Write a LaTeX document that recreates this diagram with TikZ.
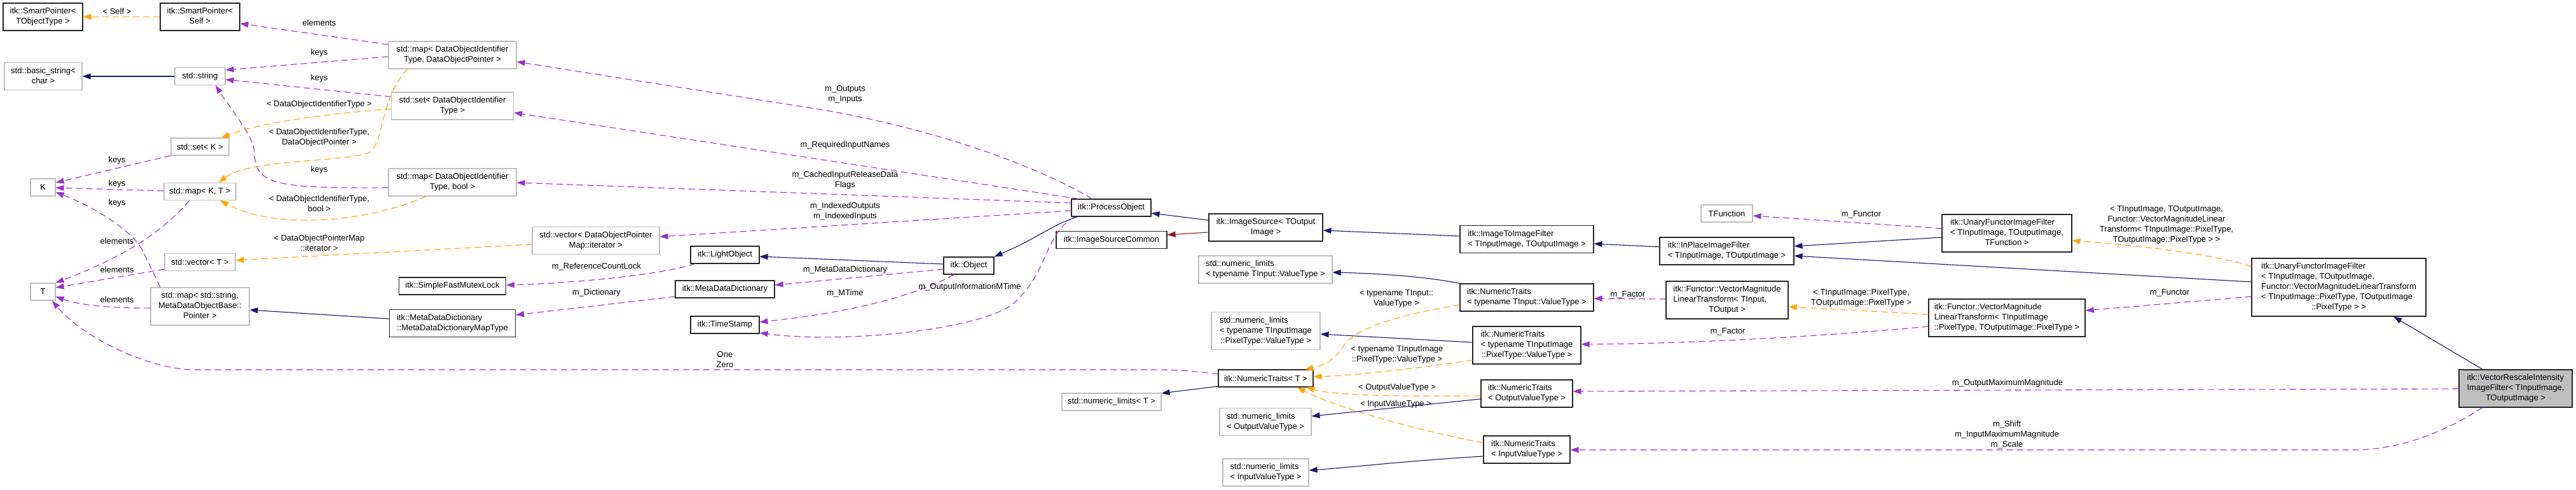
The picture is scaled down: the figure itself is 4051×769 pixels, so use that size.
\documentclass[tikz,border=0pt]{standalone}
\usepackage{fontspec}
\setmainfont{Liberation Sans}
\usepackage{xcolor}
\usepackage{tikz}
\usetikzlibrary{arrows.meta,calc}

\definecolor{inhblue}{HTML}{191970}
\definecolor{usepurple}{HTML}{9A32CD}
\definecolor{tmplorange}{HTML}{FFA500}
\definecolor{protred}{HTML}{8B1A1A}
\definecolor{extgray}{HTML}{BFBFBF}

\newcommand{\dxfont}{\fontsize{13pt}{16pt}\selectfont}
\newcommand{\boxc}[1]{\begin{tabular}{@{}c@{}}#1\end{tabular}}
\newcommand{\boxl}[1]{\begin{tabular}{@{}l@{}}#1\end{tabular}}
\newcommand{\boxm}[2]{\begin{tabular}{@{}l@{}}#1\\\multicolumn{1}{@{}c@{}}{#2}\end{tabular}}

\begin{document}
\begin{tikzpicture}[
    x=1pt, y=-1pt,
    >={Triangle[length=13pt,width=9pt]},
    cls/.style={rectangle, draw=black!85, line width=1.1pt, fill=white, inner sep=0pt, font=\dxfont},
    ext/.style={rectangle, draw=extgray, line width=1.1pt, fill=white, inner sep=0pt, font=\dxfont},
    focus/.style={cls, fill=extgray},
    wh/.style 2 args={minimum width=#1pt, minimum height=#2pt},
    lbl/.style={font=\dxfont, align=center, inner sep=0pt},
    inhline/.style={->, line width=1.1pt, inhblue},
    protline/.style={->, line width=1.1pt, protred},
    useline/.style={->, line width=1.1pt, usepurple, dash pattern=on 10pt off 6pt},
    tmplline/.style={->, line width=1.1pt, tmplorange, dash pattern=on 10pt off 6pt}
]
    \path[use as bounding box, fill=white] (0,0) rectangle (4051,769);

    % std containers and helpers
    \node[cls, wh={125}{43}] (sptobj) at (67.5,26.5) {\boxc{itk::SmartPointer<\\TObjectType >}};
    \node[cls, wh={125}{43}] (spself) at (314.5,26.5) {\boxc{itk::SmartPointer<\\Self >}};
    \node[ext, wh={122}{43}] (basicstr) at (68,120) {\boxc{std::basic\_string<\\char >}};
    \node[ext, wh={79}{27}] (string) at (314.5,120) {std::string};
    \node[ext, wh={91}{27}] (setK) at (314.5,230.5) {std::set< K >};
    \node[ext, wh={39}{27}] (K) at (67.5,294.5) {K};
    \node[ext, wh={113}{27}] (mapKT) at (314.5,301) {std::map< K, T >};
    \node[ext, wh={111}{27}] (vectorT) at (314.5,412) {std::vector< T >};
    \node[ext, wh={39}{27}] (T) at (67.5,458.5) {T};
    \node[ext, wh={155}{59}] (mapMeta) at (314.5,481.5) {\boxc{std::map< std::string,\\MetaDataObjectBase::\\Pointer >}};
    \node[ext, wh={201}{43}] (mapDOIdPtr) at (711.5,86.5) {\boxc{std::map< DataObjectIdentifier\\Type, DataObjectPointer >}};
    \node[ext, wh={192}{43}] (setDOId) at (711.5,166.5) {\boxc{std::set< DataObjectIdentifier\\Type >}};
    \node[ext, wh={201}{43}] (mapDOIdBool) at (711.5,286.5) {\boxc{std::map< DataObjectIdentifier\\Type, bool >}};
    \node[cls, wh={168}{27}] (mutex) at (711.5,449.5) {itk::SimpleFastMutexLock};
    \node[cls, wh={198}{43}] (mdmaptype) at (711.5,508) {\boxl{itk::MetaDataDictionary\\::MetaDataDictionaryMapType}};
    \node[ext, wh={200}{43}] (vecdopmi) at (937,378) {\boxc{std::vector< DataObjectPointer\\Map::iterator >}};

    % object hierarchy
    \node[cls, wh={108}{27}] (lightobj) at (1140,400.5) {itk::LightObject};
    \node[cls, wh={156}{27}] (mddict) at (1140,454.5) {itk::MetaDataDictionary};
    \node[cls, wh={108}{27}] (timestamp) at (1140,510.5) {itk::TimeStamp};
    \node[cls, wh={79}{27}] (object) at (1523.5,417.5) {itk::Object};
    \node[cls, wh={125}{27}] (procobj) at (1747.5,326.5) {itk::ProcessObject};
    \node[cls, wh={174}{27}] (isrccommon) at (1748,377) {itk::ImageSourceCommon};
    \node[ext, wh={156}{27}] (nlT) at (1748,631.5) {std::numeric\_limits< T >};
    \node[cls, wh={179}{43}] (imgsrc) at (1990.5,357.5) {\boxc{itk::ImageSource< TOutput\\Image >}};

    % numeric traits
    \node[ext, wh={210}{43}] (nlTInputVT) at (1990,423.5) {\boxl{std::numeric\_limits\\< typename TInput::ValueType >}};
    \node[ext, wh={171}{59}] (nlTInputImagePT) at (1990.5,520) {\boxm{std::numeric\_limits\\< typename TInputImage}{::PixelType::ValueType >}};
    \node[cls, wh={149}{27}] (ntT) at (1990.5,594.5) {itk::NumericTraits< T >};
    \node[ext, wh={144}{43}] (nlOutVT) at (1990,663) {\boxl{std::numeric\_limits\\< OutputValueType >}};
    \node[ext, wh={135}{43}] (nlInVT) at (1990.5,742.5) {\boxl{std::numeric\_limits\\< InputValueType >}};
    \node[cls, wh={210}{43}] (i2i) at (2401,376) {\boxl{itk::ImageToImageFilter\\< TInputImage, TOutputImage >}};
    \node[cls, wh={210}{43}] (ntTInputVT) at (2401,467.5) {\boxl{itk::NumericTraits\\< typename TInput::ValueType >}};
    \node[cls, wh={170}{59}] (ntTInputImagePT) at (2401,542.5) {\boxm{itk::NumericTraits\\< typename TInputImage}{::PixelType::ValueType >}};
    \node[cls, wh={144}{43}] (ntOutVT) at (2401,618.5) {\boxl{itk::NumericTraits\\< OutputValueType >}};
    \node[cls, wh={136}{43}] (ntInVT) at (2401,706.5) {\boxl{itk::NumericTraits\\< InputValueType >}};

    % filters and functors
    \node[ext, wh={81}{27}] (tfunc) at (2715.5,335.5) {TFunction};
    \node[cls, wh={211}{43}] (inplace) at (2715.5,394.5) {\boxl{itk::InPlaceImageFilter\\< TInputImage, TOutputImage >}};
    \node[cls, wh={192}{59}] (vmltS) at (2716,471.5) {\boxm{itk::Functor::VectorMagnitude\\LinearTransform< TInput,}{TOutput >}};
    \node[cls, wh={204}{59}] (uf) at (3156,366.5) {\boxm{itk::UnaryFunctorImageFilter\\< TInputImage, TOutputImage,}{TFunction >}};
    \node[cls, wh={246}{59}] (vmltB) at (3156,499.5) {\boxl{itk::Functor::VectorMagnitude\\LinearTransform< TInputImage\\::PixelType, TOutputImage::PixelType >}};
    \node[cls, wh={274}{91}] (ufB) at (3678,451.5) {\boxm{itk::UnaryFunctorImageFilter\\< TInputImage, TOutputImage,\\Functor::VectorMagnitudeLinearTransform\\< TInputImage::PixelType, TOutputImage}{::PixelType > >}};
    \node[focus, wh={178}{59}] (vr) at (3956,610.5) {\boxm{itk::VectorRescaleIntensity\\ImageFilter< TInputImage,}{TOutputImage >}};

    % inheritance
    \draw[inhline] (string) -- (basicstr);
    \draw[inhline] (mdmaptype.west |- 0,501) -- (mapMeta.east |- 0,487);
    \draw[inhline] (object.west |- 0,415) -- (lightobj.east |- 0,403);
    \draw[inhline] (procobj.south -| 1695,0) .. controls (1650,355) and (1640,370) .. (object.north east);
    \draw[inhline] (imgsrc.west |- 0,346) -- (procobj.east |- 0,335);
    \draw[protline] (imgsrc.west |- 0,365) -- (isrccommon.east |- 0,369);
    \draw[inhline] (i2i.west |- 0,371) -- (imgsrc.east |- 0,362);
    \draw[inhline] (inplace.west |- 0,388) -- (i2i.east |- 0,383);
    \draw[inhline] (uf.west |- 0,373) -- (inplace.east |- 0,387);
    \draw[inhline] (ufB.west |- 0,443) -- (inplace.east |- 0,402);
    \draw[inhline] (vr.north -| 3904,0) -- (ufB.south -| 3764,0);
    \draw[inhline] (ntTInputVT.north west) .. controls (2250,436) and (2180,430) .. (nlTInputVT.east |- 0,428);
    \draw[inhline] (ntTInputImagePT.west |- 0,538) -- (nlTInputImagePT.east |- 0,525);
    \draw[inhline] (ntOutVT.west |- 0,627) -- (nlOutVT.east |- 0,654);
    \draw[inhline] (ntInVT.west |- 0,717) .. controls (2200,725) and (2120,735) .. (nlInVT.east |- 0,739);
    \draw[inhline] (ntT.west |- 0,607) -- (nlT.east |- 0,618);

    % members
    \draw[useline] (mapDOIdPtr.west |- 0,70) -- (spself.east |- 0,37);
    \draw[useline] (mapDOIdPtr.west |- 0,89) -- (string.east |- 0,110);
    \draw[useline] (setDOId.west |- 0,152) -- (string.east |- 0,125);
    \draw[useline] (mapDOIdBool.west |- 0,295) .. controls (430,296) and (402,290) .. (400,240) .. controls (400,215) and (365,175) .. (string.south -| 339,0);
    \draw[useline] (setK.south west) -- (K.east |- 0,287);
    \draw[useline] (mapKT.west |- 0,300) -- (K.east |- 0,295);
    \draw[useline] (mapMeta.north -| 252,0) -- (225,395) .. controls (212,368) and (160,330) .. (K.east |- 0,302);
    \draw[useline] (mapKT.south -| 298,0) .. controls (250,370) and (190,405) .. (T.north east);
    \draw[useline] (vectorT.west |- 0,423) -- (T.east |- 0,452);
    \draw[useline] (mapMeta.west |- 0,484) .. controls (170,485) and (120,478) .. (T.east |- 0,466);
    \draw[useline] (ntT.west |- 0,588) .. controls (1870,582) and (1850,581) .. (1800,581) -- (300,581) .. controls (230,578) and (130,530) .. (T.south -| 82,0);
    \draw[useline] (lightobj.south -| 1093,0) .. controls (1040,432) and (900,445) .. (mutex.east |- 0,448);
    \draw[useline] (mddict.west |- 0,466) -- (mdmaptype.east |- 0,495);
    \draw[useline] (object.west |- 0,423) -- (mddict.east |- 0,448);
    \draw[useline] (object.south -| 1500,0) .. controls (1450,460) and (1350,490) .. (timestamp.east |- 0,506);
    \draw[useline] (procobj.south -| 1690,0) .. controls (1640,370) and (1650,430) .. (1590,480) .. controls (1530,520) and (1320,540) .. (timestamp.east |- 0,523);
    \draw[useline] (procobj.north -| 1717,0) .. controls (1640,265) and (1480,205) .. (1296,173) -- (mapDOIdPtr.east |- 0,97);
    \draw[useline] (procobj.north -| 1696,0) -- (setDOId.east |- 0,177);
    \draw[useline] (procobj.west |- 0,319) -- (mapDOIdBool.east |- 0,287);
    \draw[useline] (procobj.west |- 0,331) -- (vecdopmi.east |- 0,372);
    \draw[useline] (uf.west |- 0,359) -- (tfunc.east |- 0,339);
    \draw[useline] (ufB.west |- 0,466) -- (vmltB.east |- 0,488);
    \draw[useline] (vmltB.west |- 0,513) .. controls (2850,530) and (2650,540) .. (ntTInputImagePT.east |- 0,541);
    \draw[useline] (vmltS.west |- 0,470) -- (ntTInputVT.east |- 0,469);
    \draw[useline] (vr.west |- 0,611) -- (ntOutVT.east |- 0,615);
    \draw[useline] (vr.south -| 3904,0) .. controls (3850,675) and (3780,707) .. (3700,707) -- (ntInVT.east |- 0,707);

    % template instances
    \draw[tmplline] (spself) -- (sptobj);
    \draw[tmplline] (setDOId.west |- 0,171) .. controls (480,182) and (400,196) .. (setK.north -| 348,0);
    \draw[tmplline] (mapDOIdPtr.south -| 641,0) .. controls (598,150) and (605,225) .. (580,240) .. controls (540,255) and (390,250) .. (mapKT.north -| 344,0);
    \draw[tmplline] (mapDOIdBool.south -| 670,0) .. controls (590,345) and (440,365) .. (mapKT.south -| 346,0);
    \draw[tmplline] (vecdopmi.west |- 0,384) -- (vectorT.east |- 0,409);
    \draw[tmplline] (ufB.west |- 0,419) .. controls (3480,398) and (3350,385) .. (uf.east |- 0,378);
    \draw[tmplline] (vmltB.west |- 0,494) -- (vmltS.east |- 0,482);
    \draw[tmplline] (ntTInputVT.west |- 0,479) .. controls (2200,495) and (2130,515) .. (2112,545) .. controls (2100,565) and (2080,575) .. (ntT.north -| 2052,0);
    \draw[tmplline] (ntTInputImagePT.west |- 0,566) .. controls (2220,580) and (2130,590) .. (ntT.east |- 0,592);
    \draw[tmplline] (ntOutVT.west |- 0,622) .. controls (2200,623) and (2100,622) .. (ntT.south -| 2054,0);
    \draw[tmplline] (ntInVT.west |- 0,696) .. controls (2200,670) and (2090,635) .. (ntT.south -| 2040,0);

    % edge labels
    \node[lbl] (lself) at (184,18) {< Self >};
    \node[lbl] (lelems1) at (502,36) {elements};
    \node[lbl] (lkeys1) at (502,83) {keys};
    \node[lbl] (lkeys2) at (502,123) {keys};
    \node[lbl] (ldoit) at (502,164) {< DataObjectIdentifierType >};
    \node[lbl] (ldoitp) at (502,216) {< DataObjectIdentifierType,\\DataObjectPointer >};
    \node[lbl] (lkeys3) at (502,267) {keys};
    \node[lbl] (ldoitb) at (502,320) {< DataObjectIdentifierType,\\bool >};
    \node[lbl] (liter) at (502,382) {< DataObjectPointerMap\\::iterator >};
    \node[lbl] (lkeys4) at (184,252) {keys};
    \node[lbl] (lkeys5) at (184,289) {keys};
    \node[lbl] (lkeys6) at (184,319) {keys};
    \node[lbl] (lelems2) at (184,379) {elements};
    \node[lbl] (lelems3) at (184,424) {elements};
    \node[lbl] (lelems4) at (184,471) {elements};
    \node[lbl] (lreflock) at (938,419) {m\_ReferenceCountLock};
    \node[lbl] (ldict) at (938,460) {m\_Dictionary};
    \node[lbl] (lonezero) at (1140,565) {One\\Zero};
    \node[lbl] (linout) at (1329,148) {m\_Outputs\\m\_Inputs};
    \node[lbl] (lreq) at (1329,228) {m\_RequiredInputNames};
    \node[lbl] (lcached) at (1329,283) {m\_CachedInputReleaseData\\Flags};
    \node[lbl] (lindexed) at (1329,332) {m\_IndexedOutputs\\m\_IndexedInputs};
    \node[lbl] (lmdd) at (1329,424) {m\_MetaDataDictionary};
    \node[lbl] (lmtime) at (1329,461) {m\_MTime};
    \node[lbl] (loimt) at (1525,451) {m\_OutputInformationMTime};
    \node[lbl] (ltinvt) at (2196,469) {< typename TInput::\\ValueType >};
    \node[lbl] (ltinpt) at (2197,557) {< typename TInputImage\\::PixelType::ValueType >};
    \node[lbl] (loutvt) at (2197,609) {< OutputValueType >};
    \node[lbl] (linvt) at (2195,635) {< InputValueType >};
    \node[lbl] (lfactor1) at (2560,463) {m\_Factor};
    \node[lbl] (lfunctor1) at (2927,337) {m\_Functor};
    \node[lbl] (lpixtypes) at (2927,468) {< TInputImage::PixelType,\\TOutputImage::PixelType >};
    \node[lbl] (lfactor2) at (2717,521) {m\_Factor};
    \node[lbl] (lufargs) at (3407,353) {< TInputImage, TOutputImage,\\Functor::VectorMagnitudeLinear\\Transform< TInputImage::PixelType,\\TOutputImage::PixelType > >};
    \node[lbl] (lfunctor2) at (3412,460) {m\_Functor};
    \node[lbl] (loutmax) at (3157,602) {m\_OutputMaximumMagnitude};
    \node[lbl] (lshift) at (3156,683) {m\_Shift\\m\_InputMaximumMagnitude\\m\_Scale};
\end{tikzpicture}
\end{document}
